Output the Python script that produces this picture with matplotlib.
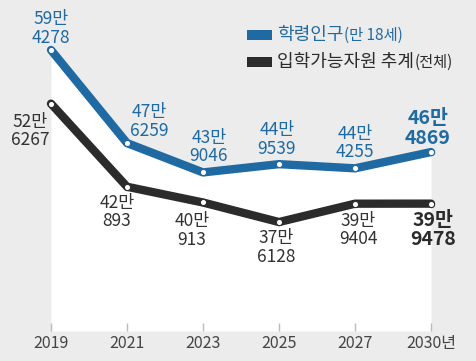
import matplotlib
matplotlib.use("Agg")
import matplotlib.pyplot as plt
from matplotlib.patches import Rectangle

plt.rcParams['font.family'] = ['Noto Sans CJK KR', 'DejaVu Sans']

# 데이터
years = ["2019", "2021", "2023", "2025", "2027", "2030년"]
school_age = [594278, 476259, 439046, 449539, 444255, 464869]   # 학령인구(만 18세)
admission = [526267, 420893, 400913, 376128, 399404, 399478]    # 입학가능자원 추계(전체)

blue = "#1f6aa3"
dark = "#2b2b2b"
bg = "#ebeceb"

W, H = 476, 361
fig = plt.figure(figsize=(W / 100, H / 100), dpi=100, facecolor=bg)
# 축 영역: 아래쪽 기준선은 y=331px
ax = fig.add_axes([0, 30 / H, 1, 331 / H])
ax.set_facecolor(bg)

x = list(range(len(years)))
ax.set_xlim(-51 / 76, (W - 51) / 76)
ymin, ymax = 237978, 657678
ax.set_ylim(ymin, ymax)

# 파란 선 아래 흰 영역
ax.fill_between(x, school_age, ymin, color="white", lw=0, zorder=1)

ax.plot(x, school_age, color=blue, lw=6, solid_capstyle="round", zorder=3,
        marker="o", ms=4.5, mfc="white", mec=blue, mew=0.8)
ax.plot(x, admission, color=dark, lw=6, solid_capstyle="round", zorder=3,
        marker="o", ms=4.5, mfc="white", mec=dark, mew=0.8)

def fmt(v):
    return "%d만\n%d" % (v // 10000, v % 10000)

# 라벨 오프셋 (pixels)
blue_off = [(0, 3), (22, 3), (6, 7), (-2, 6), (0, 7), (-3, 4)]
dark_off = [(-21, -9), (-10, -7), (-11, -10), (-3, -7), (3, -8), (2, -7)]

last = len(x) - 1
for i in x:
    big = i == last
    ax.annotate(fmt(school_age[i]), (x[i], school_age[i]), xytext=blue_off[i],
                textcoords="offset pixels", ha="center", va="bottom",
                color=blue, fontsize=14 if big else 12.5,
                fontweight="bold" if big else "normal", linespacing=1.05, zorder=5)
    ax.annotate(fmt(admission[i]), (x[i], admission[i]), xytext=dark_off[i],
                textcoords="offset pixels", ha="center", va="top",
                color=dark if big else "#333333", fontsize=14 if big else 12.5,
                fontweight="bold" if big else "normal", linespacing=1.05, zorder=5)

ax.set_xticks(x)
ax.set_xticklabels(years, fontsize=11.5, color="#444444")
ax.tick_params(axis="x", direction="in", length=6, width=1, color="#bbbbbb", pad=3)
ax.set_yticks([])
for s in ax.spines.values():
    s.set_visible(False)

# 범례
rows = [("학령인구", "(만 18세)", blue, 35), ("입학가능자원 추계", "(전체)", dark, 62)]
for main, sub, c, yc in rows:
    fig.add_artist(Rectangle((247 / W, 1 - (yc + 5) / H), 25 / W, 10 / H,
                             transform=fig.transFigure, color=c, lw=0))
    t = fig.text(277 / W, 1 - yc / H, main, color=c, fontsize=13, va="center", ha="left")
    ax.annotate(sub, xy=(1, 0.5), xycoords=t, xytext=(1, 0), textcoords="offset pixels",
                va="center", ha="left", color=c, fontsize=11)

plt.savefig("out.png", dpi=100, facecolor=bg)
